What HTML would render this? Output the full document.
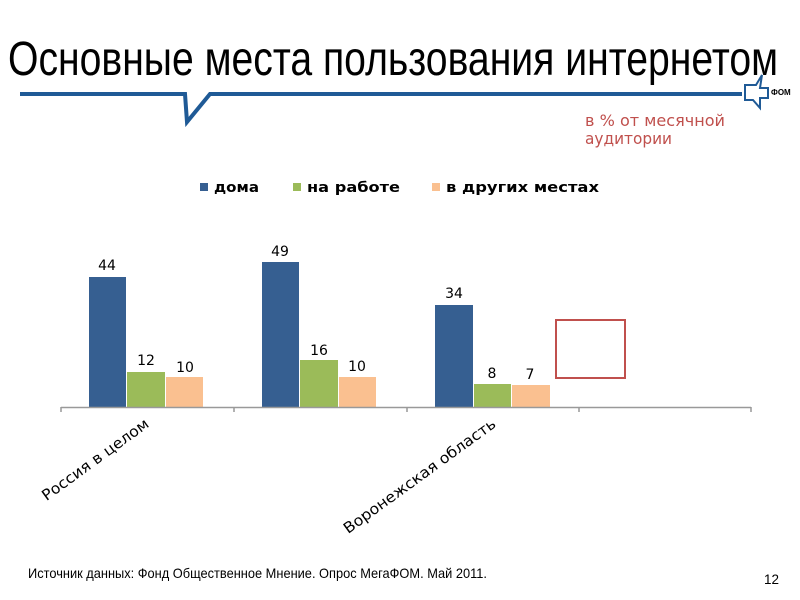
<!DOCTYPE html>
<html><head><meta charset="utf-8"><style>body{margin:0;background:#fff}svg{display:block}</style></head>
<body>
<svg width="800" height="600" viewBox="0 0 800 600" xmlns="http://www.w3.org/2000/svg">
<rect width="800" height="600" fill="#fff"/>
<text x="8" y="75" font-family="Liberation Sans, sans-serif" font-size="48" textLength="770" lengthAdjust="spacingAndGlyphs" fill="#000">Основные места пользования интернетом</text>
<polyline points="20,94 185,94 187,122 210,94 742,94" fill="none" stroke="#1f5a96" stroke-width="4"/>
<path d="M745,85 L756,85 L762,75 L760,88 L768,88 L768,98 L760,98 L760,108 L753,100 L745,100 Z" fill="#fff" stroke="#1f5a96" stroke-width="2"/>
<text x="771" y="95" font-family="Liberation Sans, sans-serif" font-size="8" font-weight="bold">ФОМ</text>
<text x="585" y="126" font-family="DejaVu Sans, sans-serif" font-size="16" fill="#c0504d" textLength="140" lengthAdjust="spacingAndGlyphs">в % от месячной</text>
<text x="585" y="144" font-family="DejaVu Sans, sans-serif" font-size="16" fill="#c0504d" textLength="87" lengthAdjust="spacingAndGlyphs">аудитории</text>
<g font-family="DejaVu Sans, sans-serif" font-size="14" font-weight="bold" fill="#000">
<rect x="200" y="183" width="8" height="8" fill="#365f91"/><text x="214" y="192" textLength="45" lengthAdjust="spacingAndGlyphs">дома</text>
<rect x="293" y="183" width="8" height="8" fill="#9bbb59"/><text x="307" y="192" textLength="93" lengthAdjust="spacingAndGlyphs">на работе</text>
<rect x="432" y="183" width="8" height="8" fill="#fac090"/><text x="446" y="192" textLength="153" lengthAdjust="spacingAndGlyphs">в других местах</text>
</g>
<g>
<rect x="89" y="277" width="37" height="130" fill="#365f91"/>
<rect x="127" y="372" width="38" height="35" fill="#9bbb59"/>
<rect x="166" y="377" width="37" height="30" fill="#fac090"/>
<rect x="262" y="262" width="37" height="145" fill="#365f91"/>
<rect x="300" y="360" width="38" height="47" fill="#9bbb59"/>
<rect x="339" y="377" width="37" height="30" fill="#fac090"/>
<rect x="435" y="305" width="38" height="102" fill="#365f91"/>
<rect x="474" y="384" width="37" height="23" fill="#9bbb59"/>
<rect x="512" y="385" width="38" height="22" fill="#fac090"/>
</g>
<g font-family="DejaVu Sans, sans-serif" font-size="14" fill="#000" text-anchor="middle">
<text x="107" y="270">44</text><text x="146" y="365">12</text><text x="185" y="372">10</text>
<text x="280" y="256">49</text><text x="319" y="355">16</text><text x="357" y="371">10</text>
<text x="454" y="298">34</text><text x="492" y="378">8</text><text x="530" y="379">7</text>
</g>
<rect x="556" y="320" width="69" height="58" fill="none" stroke="#c0504d" stroke-width="2"/>
<g stroke="#999" stroke-width="1.5">
<line x1="61" y1="407.5" x2="751" y2="407.5"/>
<line x1="61" y1="407" x2="61" y2="412"/><line x1="234" y1="407" x2="234" y2="412"/>
<line x1="407" y1="407" x2="407" y2="412"/><line x1="579" y1="407" x2="579" y2="412"/>
<line x1="751" y1="407" x2="751" y2="412"/>
</g>
<g font-family="DejaVu Sans, sans-serif" font-size="15" fill="#000" text-anchor="end">
<text transform="translate(150,426) rotate(-36)" textLength="128" lengthAdjust="spacingAndGlyphs">Россия в целом</text>
<text transform="translate(497,426) rotate(-36)" textLength="184" lengthAdjust="spacingAndGlyphs">Воронежская область</text>
</g>
<text x="28" y="578" font-family="Liberation Sans, sans-serif" font-size="14" textLength="459" lengthAdjust="spacingAndGlyphs">Источник данных: Фонд Общественное Мнение. Опрос МегаФОМ. Май 2011.</text>
<text x="764" y="584" font-family="Liberation Sans, sans-serif" font-size="14" textLength="15" lengthAdjust="spacingAndGlyphs">12</text>
</svg>
</body></html>
